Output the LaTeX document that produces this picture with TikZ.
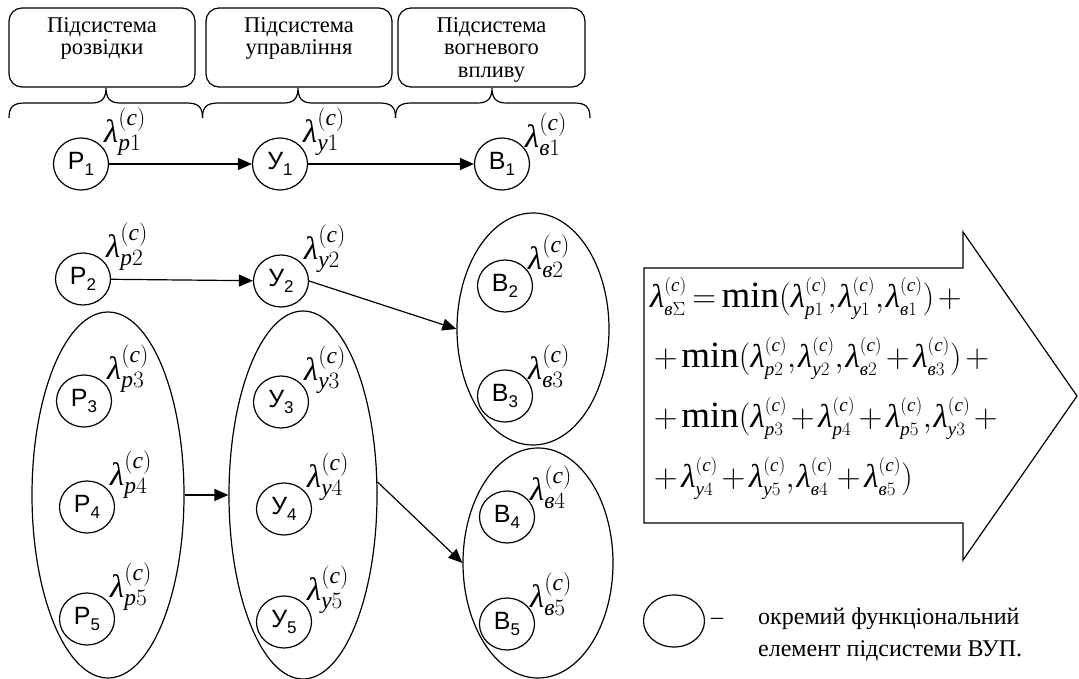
\RequirePackage{fix-cm}
\documentclass[tikz,border=0pt]{standalone}
\usepackage{amsmath}
\usepackage{fontspec}
\setmainfont{Liberation Serif}
\newfontfamily\arialf{Liberation Sans}
\usetikzlibrary{arrows.meta,shapes.geometric}
\DeclareMathSizes{33}{33}{19}{14}
\DeclareMathSizes{32.5}{32.5}{23.5}{16}
\newcommand{\vb}{\text{\itshape в}}
\newcommand{\pp}{\text{\itshape p}}
\newcommand{\yy}{\text{\itshape y}}
\newcommand{\lmb}{\text{\itshape λ}}
\newcommand{\LL}[1]{\lmb^{(\text{\itshape c})}_{#1}}
\newcommand{\mymin}{\mathop{\text{\fontsize{37}{37}\selectfont min}}\nolimits}
\newcommand{\el}[2]{#1\raisebox{-6pt}{\fontsize{17}{17}\selectfont #2}}
\newcommand{\hbrace}[3]{\draw[ln] (#1,118) .. controls (#1,107) and ({#1+4},103) .. ({#1+16},103) -- ({#2-14},103) .. controls ({#2-4},103) and (#2,98) .. (#2,88) .. controls (#2,98) and ({#2+4},103) .. ({#2+14},103) -- ({#3-16},103) .. controls ({#3-4},103) and (#3,107) .. (#3,118);}
\tikzset{
 ln/.style={line width=1.2pt},
 elem/.style={ellipse, draw, line width=1.2pt, minimum width=55pt, minimum height=52pt, inner sep=0pt, font=\arialf\fontsize{25}{25}\selectfont},
 grp/.style={ellipse, draw, line width=1.2pt, inner sep=0pt},
 lab/.style={anchor=south west, inner sep=0pt, font=\fontsize{32.5}{32.5}\selectfont},
 hbox/.style={draw, rounded corners=13pt, line width=1.2pt, inner sep=0pt},
 htext/.style={anchor=north, align=center, inner sep=0pt, font=\fontsize{22.5}{22.7}\selectfont},
 conn/.style={line width=1.2pt, -{Triangle[length=14pt,width=12pt]}},
 fline/.style={anchor=base west, inner sep=0pt, font=\fontsize{33}{60}\selectfont},
}
\begin{document}
\begin{tikzpicture}[x=1pt,y=-1pt]
\useasboundingbox (0,0) rectangle (1079,679);
% header boxes
\node[hbox, minimum width=186pt, minimum height=79pt] (box1) at (102,47.5) {};
\node[hbox, minimum width=186pt, minimum height=79pt] (box2) at (299,47.5) {};
\node[hbox, minimum width=187pt, minimum height=79pt] (box3) at (491.5,47.5) {};
\node[htext] (t1) at (102,17) {Підсистема\\розвідки};
\node[htext] (t2) at (299,17) {Підсистема\\управління};
\node[htext] (t3) at (491.5,17) {Підсистема\\вогневого\\впливу};
% braces
\hbrace{9}{106}{202.5}
\hbrace{202.5}{298}{395.5}
\hbrace{395.5}{492}{590}
% group ellipses
\node[grp, minimum width=152pt, minimum height=366pt] (PE) at (108,495) {};
\node[grp, minimum width=148pt, minimum height=368pt] (YE) at (303,495) {};
\node[grp, minimum width=152pt, minimum height=232pt] (BE1) at (533,329) {};
\node[grp, minimum width=150pt, minimum height=230pt] (BE2) at (538,563) {};
% elements
\node[elem] (P1) at (81,164) {\el{Р}{1}};
\node[elem] (Y1) at (280,164) {\el{У}{1}};
\node[elem] (B1) at (502,164) {\el{В}{1}};
\node[elem] (P2) at (83,279) {\el{Р}{2}};
\node[elem] (Y2) at (281,281) {\el{У}{2}};
\node[elem] (B2) at (505,286) {\el{В}{2}};
\node[elem] (B3) at (505,396) {\el{В}{3}};
\node[elem] (P3) at (84,401) {\el{Р}{3}};
\node[elem] (Y3) at (281,402) {\el{У}{3}};
\node[elem] (P4) at (87,507) {\el{Р}{4}};
\node[elem] (Y4) at (284,509) {\el{У}{4}};
\node[elem] (B4) at (507,517) {\el{В}{4}};
\node[elem] (P5) at (87,619) {\el{Р}{5}};
\node[elem] (Y5) at (284,622) {\el{У}{5}};
\node[elem] (B5) at (507,624) {\el{В}{5}};
% labels
\foreach \n/\s/\d in {P1/\pp/1,P2/\pp/2,P3/\pp/3,P4/\pp/4,P5/\pp/5,Y1/\yy/1,Y2/\yy/2,Y3/\yy/3,Y4/\yy/4,Y5/\yy/5,B1/\vb/1,B2/\vb/2,B3/\vb/3,B4/\vb/4,B5/\vb/5}{
  \node[lab] (l\n) at ([shift={(23,-8)}]\n.center) {$\LL{\s\d}$};
}
% connectors
\draw[conn] (P1) -- (Y1);
\draw[conn] (Y1) -- (B1);
\draw[conn] (P2) -- (Y2);
\draw[conn] (Y2.east) -- (BE1.west);
\draw[conn] (PE.east) -- (YE.west);
\draw[conn] (YE.10) -- (BE2.west);
% big arrow
\draw[ln] (644,268) -- (963,268) -- (963,232) -- (1077,396) -- (963,560) -- (963,523) -- (644,523) -- cycle;
\begingroup
\medmuskip=2mu \thickmuskip=3mu \thinmuskip=1mu
\node[fline] (f1) at (650,307) {$\LL{\vb\Sigma} = \mymin(\LL{\pp1}, \LL{\yy1}, \LL{\vb1}) +{}$};
\node[fline] (f2) at (650,367) {${}+\mymin(\LL{\pp2}, \LL{\yy2}, \LL{\vb2} + \LL{\vb3}) +{}$};
\node[fline] (f3) at (650,427) {${}+\mymin(\LL{\pp3} + \LL{\pp4} + \LL{\pp5}, \LL{\yy3} +{}$};
\node[fline] (f4) at (650,487) {${}+\LL{\yy4} + \LL{\yy5}, \LL{\vb4} + \LL{\vb5})$};
\endgroup
% legend
\node[grp, minimum width=61pt, minimum height=52pt] (leg) at (674,621) {};
\node[anchor=base, inner sep=0pt, font=\fontsize{24}{24}\selectfont] (dash) at (717,624) {–};
\node[anchor=north west, align=left, inner sep=0pt, font=\fontsize{24}{32}\selectfont] (legt) at (758,608) {окремий функціональний\\елемент підсистеми ВУП.};
\end{tikzpicture}
\end{document}
